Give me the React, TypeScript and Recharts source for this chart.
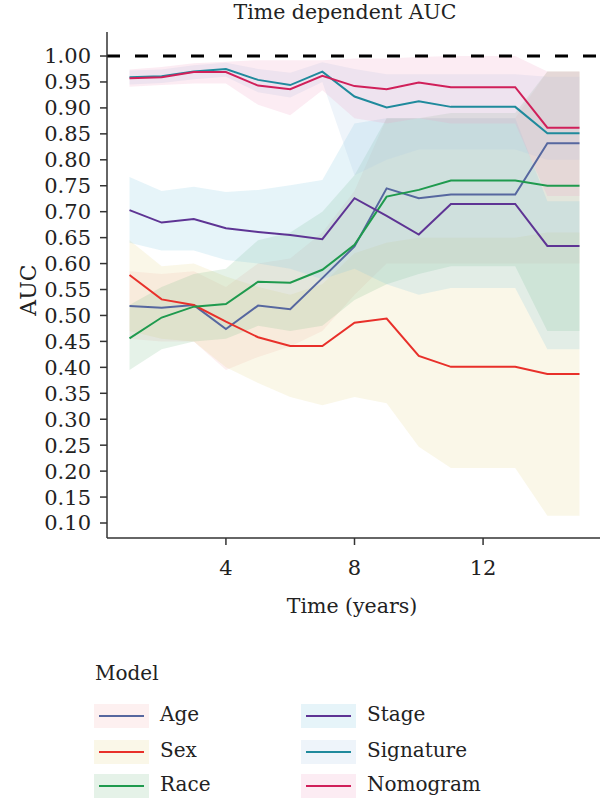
import React from 'react';
import { ComposedChart, Area, Line, XAxis, YAxis, ReferenceLine } from 'recharts';

const years = [1, 2, 3, 4, 5, 6, 7, 8, 9, 10, 11, 12, 13, 14, 15];
const xTicks = [4, 8, 12];
const yTicks = [0.1, 0.15, 0.2, 0.25, 0.3, 0.35, 0.4, 0.45, 0.5, 0.55, 0.6, 0.65, 0.7, 0.75, 0.8, 0.85, 0.9, 0.95, 1.0];

const ageAuc = [0.518, 0.515, 0.52, 0.474, 0.519, 0.512, 0.572, 0.633, 0.745, 0.726, 0.733, 0.733, 0.733, 0.832, 0.832];
const ageLo = [0.455, 0.45, 0.45, 0.395, 0.42, 0.44, 0.47, 0.54, 0.6, 0.6, 0.6, 0.6, 0.6, 0.6, 0.6];
const ageHi = [0.585, 0.58, 0.585, 0.555, 0.6, 0.61, 0.66, 0.74, 0.88, 0.88, 0.88, 0.88, 0.88, 0.97, 0.97];

const sexAuc = [0.578, 0.531, 0.52, 0.488, 0.458, 0.441, 0.441, 0.486, 0.494, 0.422, 0.401, 0.401, 0.401, 0.387, 0.387];
const sexLo = [0.47, 0.455, 0.45, 0.4, 0.37, 0.343, 0.327, 0.343, 0.331, 0.247, 0.206, 0.206, 0.206, 0.114, 0.114];
const sexHi = [0.645, 0.595, 0.6, 0.575, 0.555, 0.54, 0.56, 0.62, 0.64, 0.65, 0.65, 0.65, 0.65, 0.66, 0.66];

const raceAuc = [0.456, 0.496, 0.517, 0.522, 0.565, 0.563, 0.588, 0.636, 0.729, 0.742, 0.76, 0.76, 0.76, 0.75, 0.75];
const raceLo = [0.395, 0.435, 0.45, 0.455, 0.48, 0.47, 0.48, 0.53, 0.56, 0.58, 0.595, 0.595, 0.595, 0.47, 0.47];
const raceHi = [0.52, 0.555, 0.58, 0.59, 0.645, 0.66, 0.7, 0.77, 0.88, 0.88, 0.89, 0.89, 0.89, 0.97, 0.97];

const stageAuc = [0.703, 0.679, 0.686, 0.668, 0.661, 0.655, 0.647, 0.726, 0.692, 0.656, 0.715, 0.715, 0.715, 0.634, 0.634];
const stageLo = [0.64, 0.625, 0.625, 0.607, 0.6, 0.59, 0.57, 0.59, 0.56, 0.54, 0.553, 0.553, 0.553, 0.435, 0.435];
const stageHi = [0.767, 0.74, 0.748, 0.738, 0.742, 0.751, 0.761, 0.87, 0.88, 0.88, 0.88, 0.88, 0.88, 0.72, 0.72];

const sigAuc = [0.959, 0.961, 0.97, 0.975, 0.954, 0.944, 0.97, 0.922, 0.901, 0.913, 0.902, 0.902, 0.902, 0.851, 0.851];
const sigLo = [0.945, 0.948, 0.955, 0.96, 0.93, 0.92, 0.95, 0.77, 0.8, 0.82, 0.82, 0.82, 0.82, 0.8, 0.8];
const sigHi = [0.972, 0.974, 0.982, 0.987, 0.975, 0.968, 0.988, 0.975, 0.965, 0.965, 0.965, 0.965, 0.965, 0.96, 0.96];

const nomoAuc = [0.957, 0.959, 0.969, 0.969, 0.943, 0.936, 0.962, 0.942, 0.936, 0.949, 0.94, 0.94, 0.94, 0.862, 0.862];
const nomoLo = [0.941, 0.944, 0.947, 0.947, 0.906, 0.886, 0.934, 0.88, 0.87, 0.88, 0.87, 0.87, 0.87, 0.73, 0.73];
const nomoHi = [0.974, 0.979, 0.986, 0.989, 0.992, 0.992, 0.992, 0.995, 0.995, 0.998, 1.0, 1.0, 1.0, 0.97, 0.97];

const models = [
  { name: 'Age', key: 'age', line: '#56679f', fill: '#f5b4b4', auc: ageAuc, lo: ageLo, hi: ageHi },
  { name: 'Sex', key: 'sex', line: '#e8302a', fill: '#e6d78c', auc: sexAuc, lo: sexLo, hi: sexHi },
  { name: 'Race', key: 'race', line: '#1f9a4e', fill: '#7dbe8c', auc: raceAuc, lo: raceLo, hi: raceHi },
  { name: 'Stage', key: 'stage', line: '#5e3494', fill: '#82c8e1', auc: stageAuc, lo: stageLo, hi: stageHi },
  { name: 'Signature', key: 'sig', line: '#1f8a9c', fill: '#aac8e6', auc: sigAuc, lo: sigLo, hi: sigHi },
  { name: 'Nomogram', key: 'nomo', line: '#d0205a', fill: '#f0a0c3', auc: nomoAuc, lo: nomoLo, hi: nomoHi },
];

const data = years.map((t, i) => {
  const row: any = { t };
  models.forEach((m) => {
    row[m.key] = m.auc[i];
    row[m.key + 'Band'] = [m.lo[i], m.hi[i]];
  });
  return row;
});

const font = 'DejaVu Serif';
const axisColor = '#333';

function LegendItem({ m, left, top }: { m: any; left: number; top: number }) {
  return <div style={{ position: 'absolute', left, top, height: 24 }}>
      <div style={{ position: 'absolute', left: 0, top: 0, width: 55, height: 24, background: m.fill, opacity: 0.2 }} />
      <div style={{ position: 'absolute', left: 5, top: 11, width: 45, height: 2, background: m.line }} />
      <div style={{ position: 'absolute', left: 66, top: -2, fontSize: 20, whiteSpace: 'nowrap', color: '#222' }}>{m.name}</div>
    </div>;
}

export default function App() {
  const rowsTop = [704, 740, 774];
  return <div style={{ position: 'absolute', left: 0, top: 0, width: 600, height: 803, overflow: 'hidden', background: '#fff', fontFamily: font }}>
      <div style={{ position: 'absolute', left: 345, top: 0, transform: 'translateX(-50%)', fontSize: 20.5, whiteSpace: 'nowrap', color: '#222' }}>
        Time dependent AUC
      </div>
      <ComposedChart width={610} height={803} data={data} margin={{ top: 32, right: 8, bottom: 225, left: 0 }}>
        <XAxis dataKey="t" type="number" domain={[0.3, 15.7]} ticks={xTicks} allowDataOverflow height={40} interval={0}
          tickSize={7} tickMargin={15} axisLine={{ stroke: axisColor, strokeWidth: 1.5 }} tickLine={{ stroke: axisColor, strokeWidth: 1.5 }}
          tick={{ fontFamily: font, fontSize: 21, fill: '#222' }} />
        <YAxis type="number" domain={[0.0711, 1.0463]} ticks={yTicks} allowDataOverflow width={107} interval={0}
          tickSize={7} tickMargin={9} tickFormatter={(v: number) => v.toFixed(2)}
          axisLine={{ stroke: axisColor, strokeWidth: 1.5 }} tickLine={{ stroke: axisColor, strokeWidth: 1.5 }}
          tick={{ fontFamily: font, fontSize: 21, fill: '#222' }} />
        {models.map((m) => <Area key={m.key + 'Band'} dataKey={m.key + 'Band'} type="linear" stroke="none"
            fill={m.fill} fillOpacity={0.2} isAnimationActive={false} />)}
        <ReferenceLine y={1} stroke="#000" strokeWidth={3} strokeDasharray="13 15" />
        {models.map((m) => <Line key={m.key} dataKey={m.key} type="linear" stroke={m.line} strokeWidth={2}
            dot={false} isAnimationActive={false} />)}
      </ComposedChart>
      <div style={{ position: 'absolute', left: 28, top: 290, transform: 'translate(-50%, -50%) rotate(-90deg)', fontSize: 22, color: '#222', whiteSpace: 'nowrap' }}>
        AUC
      </div>
      <div style={{ position: 'absolute', left: 352, top: 594, transform: 'translateX(-50%)', fontSize: 20.5, color: '#222', whiteSpace: 'nowrap' }}>
        Time (years)
      </div>
      <div style={{ position: 'absolute', left: 95, top: 661, fontSize: 20, color: '#222' }}>Model</div>
      {models.slice(0, 3).map((m, i) => <LegendItem key={m.key} m={m} left={94} top={rowsTop[i]} />)}
      {models.slice(3).map((m, i) => <LegendItem key={m.key} m={m} left={301} top={rowsTop[i]} />)}
    </div>;
}
